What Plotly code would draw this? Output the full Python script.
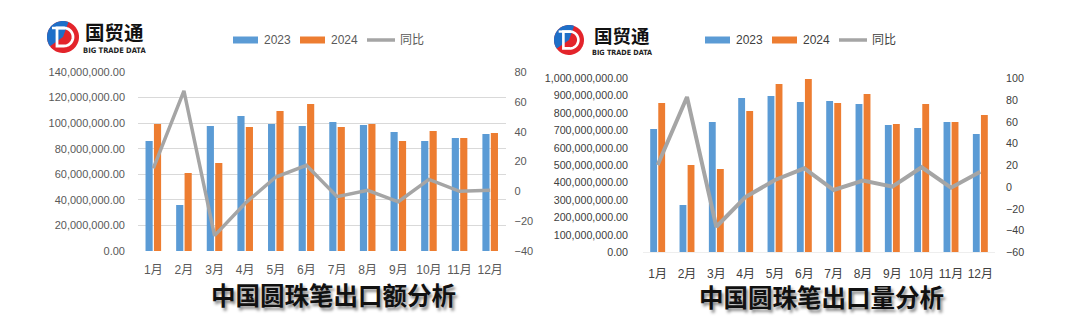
import numpy as np
import plotly.graph_objects as go

W, H = 1088, 326

months = ["1月", "2月", "3月", "4月", "5月", "6月", "7月", "8月", "9月", "10月", "11月", "12月"]

# Left chart: export value
value_2023 = [86.0e6, 36.0e6, 97.8e6, 105.6e6, 99.3e6, 97.8e6, 100.9e6, 98.5e6, 93.0e6, 86.0e6, 88.4e6, 91.5e6]
value_2024 = [99.3e6, 61.0e6, 68.8e6, 97.0e6, 109.5e6, 115.0e6, 97.0e6, 99.3e6, 86.0e6, 93.8e6, 88.4e6, 92.3e6]
value_yoy = [15.4, 67.3, -29.7, -8.0, 9.6, 17.4, -3.6, 0.7, -7.0, 8.0, 0.0, 0.7]

# Right chart: export quantity
qty_2023 = [709e6, 272e6, 749e6, 887e6, 898e6, 864e6, 870e6, 852e6, 732e6, 715e6, 749e6, 680e6]
qty_2024 = [858e6, 502e6, 479e6, 812e6, 967e6, 996e6, 858e6, 910e6, 737e6, 852e6, 749e6, 789e6]
qty_yoy = [20.3, 82.8, -36.5, -9.1, 6.5, 17.2, -2.7, 5.9, 0.3, 18.2, -0.6, 14.1]

series_names = ["2023", "2024", "同比"]
titles = ["中国圆珠笔出口额分析", "中国圆珠笔出口量分析"]

BLUE = "#5B9BD5"
ORANGE = "#ED7D31"
GRAY = "#A5A5A5"
TXT = "#595959"
TXT2 = "#404040"
FONT = "Liberation Sans, Noto Sans CJK SC, sans-serif"
CJK = "Noto Sans CJK SC, sans-serif"


def px(x):
    return x / W


def py(y):
    return 1 - y / H


fig = go.Figure()

# left chart
fig.add_trace(go.Bar(x=months, y=value_2023, name=series_names[0], marker_color=BLUE,
                     xaxis="x", yaxis="y", offsetgroup="a", showlegend=False))
fig.add_trace(go.Bar(x=months, y=value_2024, name=series_names[1], marker_color=ORANGE,
                     xaxis="x", yaxis="y", offsetgroup="b", showlegend=False))
fig.add_trace(go.Scatter(x=months, y=value_yoy, name=series_names[2], mode="lines",
                         line=dict(color=GRAY, width=3.5), xaxis="x", yaxis="y2", showlegend=False))
# right chart
fig.add_trace(go.Bar(x=months, y=qty_2023, name=series_names[0], marker_color=BLUE,
                     xaxis="x2", yaxis="y3", offsetgroup="c", showlegend=False))
fig.add_trace(go.Bar(x=months, y=qty_2024, name=series_names[1], marker_color=ORANGE,
                     xaxis="x2", yaxis="y3", offsetgroup="d", showlegend=False))
fig.add_trace(go.Scatter(x=months, y=qty_yoy, name=series_names[2], mode="lines",
                         line=dict(color=GRAY, width=4), xaxis="x2", yaxis="y4", showlegend=False))

tick_font = dict(family=FONT, size=11, color=TXT)
month_font = dict(family=FONT, size=12, color=TXT)

fig.update_layout(
    template="none",
    width=W, height=H,
    margin=dict(l=0, r=0, t=0, b=0),
    paper_bgcolor="white", plot_bgcolor="white",
    barmode="group", bargap=0.45, bargroupgap=0.15,
    xaxis=dict(domain=[px(138), px(505.5)], anchor="y", type="category", tickfont=month_font,
               showgrid=False, zeroline=False, showline=False, ticks="", ticklabelstandoff=10),
    yaxis=dict(domain=[1 - 251 / H, 1 - 72 / H], range=[0, 140e6], dtick=20e6, tickformat=",.2f",
               tickfont=tick_font, showgrid=True, gridcolor="#D9D9D9", gridwidth=1,
               zeroline=False, showline=False, ticks="", ticklabelstandoff=12),
    yaxis2=dict(overlaying="y", side="right", anchor="x", range=[-40, 80], dtick=20,
                tickfont=tick_font, showgrid=False, zeroline=False, showline=False, ticks="",
                ticklabelstandoff=8),
    xaxis2=dict(domain=[px(643), px(995)], anchor="y3", type="category",
                tickfont=dict(family=FONT, size=12, color=TXT2),
                showgrid=False, zeroline=False, showline=True, linecolor="#EEEEEE", ticks="",
                ticklabelstandoff=10),
    yaxis3=dict(domain=[1 - 252.3 / H, 1 - 78.3 / H], range=[0, 1e9], dtick=1e8, tickformat=",.2f",
                tickfont=dict(family=FONT, size=10.7, color=TXT2), showgrid=False,
                zeroline=False, showline=False, ticks="", ticklabelstandoff=14, anchor="x2"),
    yaxis4=dict(overlaying="y3", side="right", anchor="x2", range=[-60, 100], dtick=20,
                tickfont=dict(family=FONT, size=10.7, color=TXT2), showgrid=False,
                zeroline=False, showline=False, ticks="", ticklabelstandoff=10),
)

shapes = []
annotations = []

# titles
for title, cx, cy in [(titles[0], 333, 294), (titles[1], 821, 296)]:
    annotations.append(dict(text="<b>" + title + "</b>", x=px(cx), y=py(cy), xref="paper", yref="paper",
                            showarrow=False, xanchor="center", yanchor="middle",
                            font=dict(family=CJK, size=24.5, color="#111111",
                                      shadow="2px 3px 3px rgba(0,0,0,0.45)")))


# manual legends
def legend(x0, y, text_color):
    items = [(BLUE, series_names[0], "bar"), (ORANGE, series_names[1], "bar"), (GRAY, series_names[2], "line")]
    x = x0
    for color, name, kind in items:
        if kind == "bar":
            shapes.append(dict(type="rect", xref="paper", yref="paper", x0=px(x), x1=px(x + 25),
                               y0=py(y + 3.5), y1=py(y - 3.5), fillcolor=color, line=dict(width=0)))
        else:
            shapes.append(dict(type="line", xref="paper", yref="paper", x0=px(x), x1=px(x + 28),
                               y0=py(y), y1=py(y), line=dict(color=color, width=3.5)))
        tx = x + (29 if kind == "bar" else 31)
        annotations.append(dict(text=name, x=px(tx), y=py(y), xref="paper", yref="paper",
                                showarrow=False, xanchor="left", yanchor="middle",
                                font=dict(family=FONT, size=12, color=text_color)))
        x += 67


legend(233, 40, TXT)
legend(705, 40, TXT2)


# logos
def arc_pts(cx, cy, r, a0, a1, n=40):
    a = np.radians(np.linspace(a0, a1, n))
    return [(cx + r * np.cos(t), cy - r * np.sin(t)) for t in a]


def path_from(pts, close=True):
    s = "M " + " L ".join(f"{px(x):.5f},{py(y):.5f}" for x, y in pts)
    return s + (" Z" if close else "")


def logo(cx, cy, r, tx, ty, s1, s2):
    shapes.append(dict(type="path", xref="paper", yref="paper",
                       path=path_from(arc_pts(cx, cy, r, 0, 360, 60)),
                       fillcolor="#E3242B", line=dict(width=0)))
    pts = [(cx, cy)] + arc_pts(cx, cy, r, 70, 215, 40)
    shapes.append(dict(type="path", xref="paper", yref="paper", path=path_from(pts),
                       fillcolor="#1E6FC8", line=dict(width=0)))
    k = r / 16
    dpts = [(cx - 6 * k, cy - 9 * k)] + arc_pts(cx + 1 * k, cy, 9 * k, 90, -90, 30) + [(cx - 6 * k, cy + 9 * k)]
    shapes.append(dict(type="path", xref="paper", yref="paper", path=path_from(dpts),
                       fillcolor="rgba(0,0,0,0)", line=dict(color="white", width=2.8 * k)))
    shapes.append(dict(type="line", xref="paper", yref="paper", x0=px(cx - 11 * k), x1=px(cx + 2 * k),
                       y0=py(cy - 9 * k), y1=py(cy - 9 * k), line=dict(color="white", width=2.5 * k)))
    annotations.append(dict(text="<b>国贸通</b>", x=px(tx), y=py(ty), xref="paper", yref="paper",
                            showarrow=False, xanchor="center", yanchor="middle", borderpad=0,
                            font=dict(family=CJK, size=s1, color="#111111")))
    annotations.append(dict(text="<b>BIG TRADE DATA</b>", x=px(tx), y=py(ty + 18), xref="paper", yref="paper",
                            showarrow=False, xanchor="center", yanchor="middle", borderpad=0,
                            font=dict(family="DejaVu Sans Condensed, DejaVu Sans, sans-serif", size=s2,
                                      color="#222222")))


logo(63, 37, 16, 114, 32, 19.5, 7.5)
logo(569, 40, 15, 622, 35, 18.5, 7.2)

fig.update_layout(shapes=shapes, annotations=annotations)

fig.write_html("out.html")
